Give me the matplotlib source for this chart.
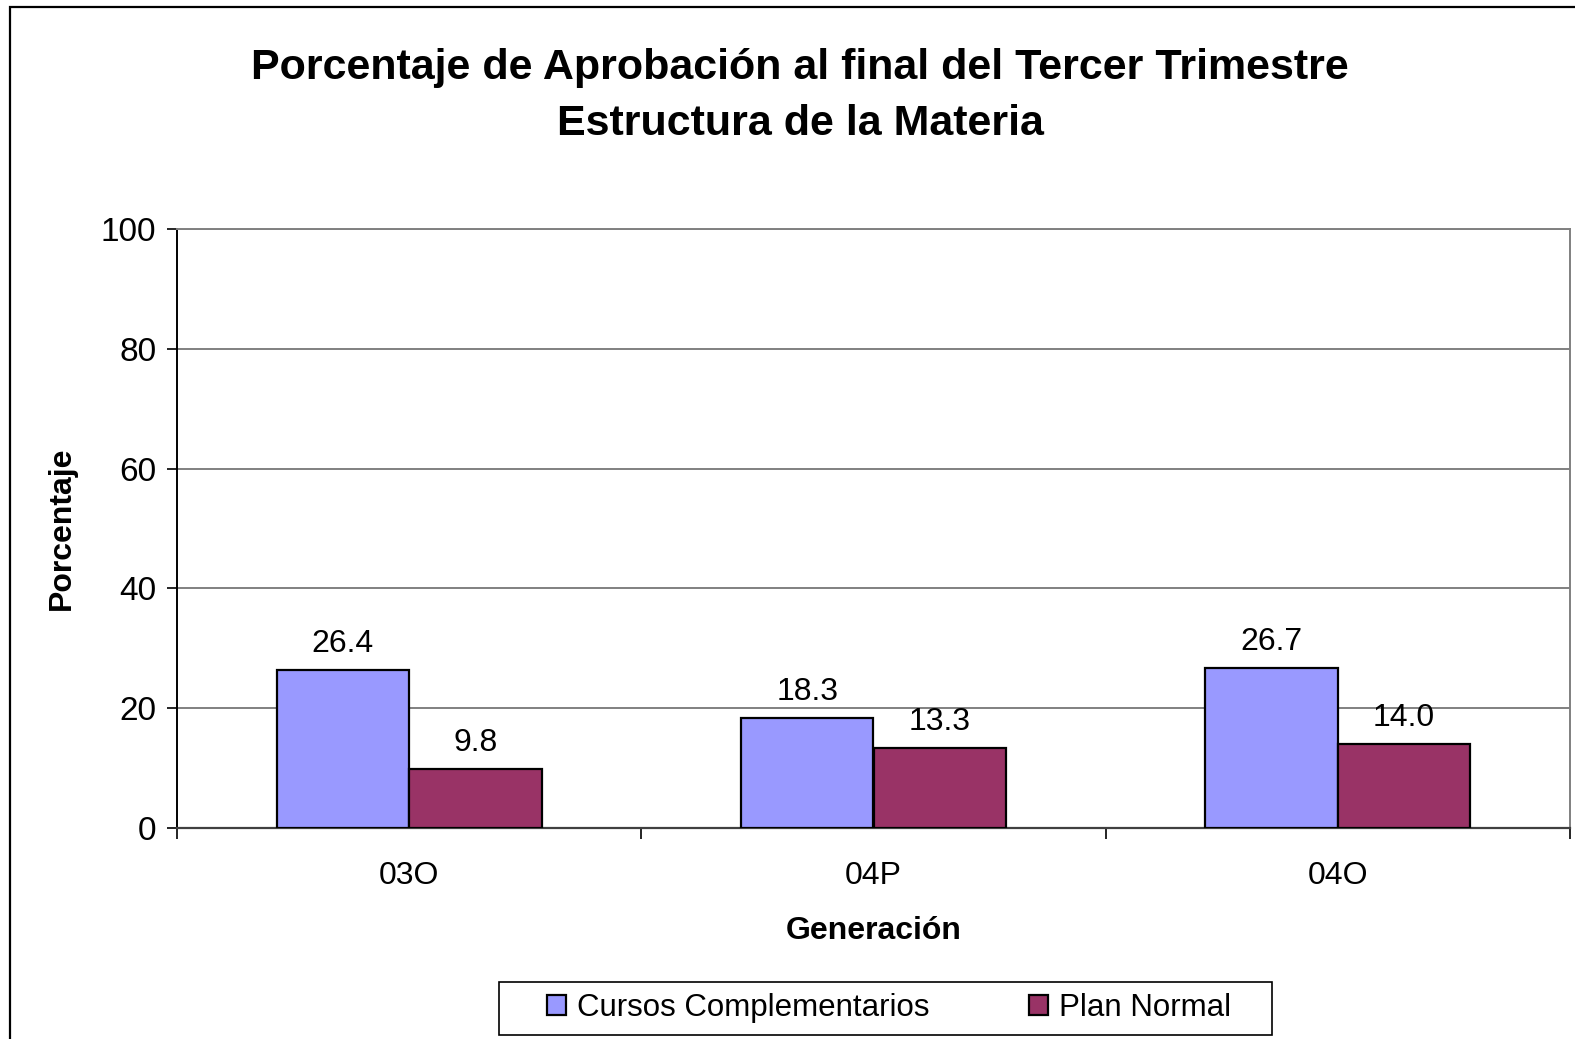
import matplotlib.pyplot as plt
import numpy as np
from matplotlib.patches import Rectangle

# Approval percentages per generation
generaciones = ["03O", "04P", "04O"]
cursos_complementarios = [26.4, 18.3, 26.7]
plan_normal = [9.8, 13.3, 14.0]
series_names = ["Cursos Complementarios", "Plan Normal"]
y_ticks = [0, 20, 40, 60, 80, 100]

W, H = 1575, 1039
plt.rcParams['font.family'] = ['Liberation Sans', 'DejaVu Sans']
FS = 23

fig = plt.figure(figsize=(W / 100, H / 100), dpi=100)

# Chart frame
fig.patches.append(Rectangle((9.5 / W, -0.05), 1.2, 1 - 7.3 / H + 0.05,
                             transform=fig.transFigure, fill=False,
                             edgecolor='black', linewidth=1.6))

left, right, top, bottom = 177, 1570, 229, 828
ax = fig.add_axes([left / W, 1 - bottom / H, (right - left) / W, (bottom - top) / H])

x = np.arange(len(generaciones))
width = 1 / 3.5  # gap width of 150%
bars1 = ax.bar(x - width / 2, cursos_complementarios, width, color='#9999FF',
               edgecolor='black', linewidth=1.6, label=series_names[0], zorder=3)
bars2 = ax.bar(x + width / 2, plan_normal, width, color='#993366',
               edgecolor='black', linewidth=1.6, label=series_names[1], zorder=3)

for bars, vals in ((bars1, cursos_complementarios), (bars2, plan_normal)):
    for b, v in zip(bars, vals):
        ax.annotate(f"{v:.1f}", (b.get_x() + b.get_width() / 2, v),
                    xytext=(0, 8), textcoords='offset points',
                    ha='center', va='bottom', fontsize=FS)

ax.set_xlim(-0.5, len(generaciones) - 0.5)
ax.set_ylim(0, 100)
ax.set_yticks(y_ticks)
ax.tick_params(axis='y', labelsize=FS + 1, length=7, width=1.2, direction='out', pad=8)
ax.yaxis.grid(True, color='#808080', linewidth=1.4, zorder=0)

# Category labels centred, ticks on the category boundaries
ax.set_xticks(x)
ax.set_xticklabels(generaciones, fontsize=FS)
ax.tick_params(axis='x', length=0, pad=24)
ax.set_xticks(np.arange(-0.5, len(generaciones)), minor=True)
ax.tick_params(axis='x', which='minor', length=8, width=1.2, direction='out')

ax.spines['left'].set_color('black')
ax.spines['left'].set_linewidth(1.4)
ax.spines['bottom'].set_color('#404040')
ax.spines['bottom'].set_linewidth(1.6)
ax.spines['top'].set_color('#808080')
ax.spines['top'].set_linewidth(1.4)
ax.spines['right'].set_color('#808080')
ax.spines['right'].set_linewidth(1.4)

ax.set_ylabel("Porcentaje", fontsize=FS, fontweight='bold', labelpad=17)
ax.set_xlabel("Generación", fontsize=FS, fontweight='bold', labelpad=18)

fig.text(800 / W, 1 - 96 / H, "Porcentaje de Aprobación al final del Tercer Trimestre\nEstructura de la Materia",
         ha='center', va='center', fontsize=31, fontweight='bold', linespacing=1.5)

# Legend box drawn separately for its wide padding
fig.patches.append(Rectangle((499 / W, 1 - 1035 / H), (1272 - 499) / W, (1035 - 982) / H,
                             transform=fig.transFigure, fill=False,
                             edgecolor='black', linewidth=1.2))
leg = fig.legend(loc='center', bbox_to_anchor=(889 / W, 1 - 1008 / H), ncol=2,
                 fontsize=22.5, frameon=False,
                 handlelength=0.6, handleheight=0.6, handletextpad=0.35,
                 columnspacing=3.2, borderpad=0.2)

fig.savefig("out.png", dpi=100, facecolor='white')
